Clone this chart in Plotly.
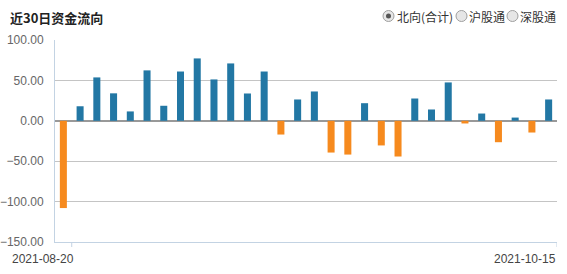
import plotly.graph_objects as go

dates = [
    "2021-08-20", "2021-08-23", "2021-08-24", "2021-08-25", "2021-08-26", "2021-08-27",
    "2021-08-30", "2021-08-31", "2021-09-01", "2021-09-02", "2021-09-03", "2021-09-06",
    "2021-09-07", "2021-09-08", "2021-09-09", "2021-09-10", "2021-09-13", "2021-09-14",
    "2021-09-15", "2021-09-16", "2021-09-17", "2021-09-23", "2021-09-24", "2021-09-27",
    "2021-09-28", "2021-09-29", "2021-10-08", "2021-10-11", "2021-10-12", "2021-10-15",
]
net_flow = [
    -108, 18, 53.7, 34, 11.6, 62.4, 18.6, 61, 77.2, 51.2,
    71, 33.8, 61, -17, 26.4, 36.3, -39.3, -41.8, 21.8, -30.5,
    -44.2, 27.6, 14, 47.5, -3.3, 9, -26.5, 4, -14.5, 26.4,
]
y_ticks = [-150, -100, -50, 0, 50, 100]
title_text = "近30日资金流向"
legend_items = ["北向(合计)", "沪股通", "深股通"]

BLUE = "#2277a4"
ORANGE = "#f68a1e"
AXIS = "#c3d3e3"

colors = [BLUE if v >= 0 else ORANGE for v in net_flow]

fig = go.Figure(go.Bar(x=dates, y=net_flow, marker=dict(color=colors, line=dict(width=0)),
                       hoverinfo="x+y"))

L, R, T, B = 55, 10, 40, 32
W, H = 567, 274
PW, PH = W - L - R, H - T - B


def px_x(p):
    return (p - L) / PW


def px_y(p):
    return (H - B - p) / PH


shapes = []
annotations = []

# x-axis tick marks at category boundaries
for xv in [0.5, len(dates) - 0.5]:
    shapes.append(dict(type="line", xref="x", yref="paper", x0=xv, x1=xv,
                       y0=0, y1=-5 / PH, line=dict(color=AXIS, width=1)))

# date labels
annotations.append(dict(text=dates[0], xref="x", yref="paper", x=dates[0], y=px_y(259),
                        xanchor="center", yanchor="middle", xshift=-20, showarrow=False,
                        font=dict(family="Liberation Sans", size=12, color="#444")))
annotations.append(dict(text=dates[-1], xref="x", yref="paper", x=dates[-1], y=px_y(259),
                        xanchor="center", yanchor="middle", xshift=-24, showarrow=False,
                        font=dict(family="Liberation Sans", size=12, color="#444")))

# title
annotations.append(dict(text="<b>" + title_text + "</b>", xref="paper", yref="paper",
                        x=px_x(8), y=px_y(18), xanchor="left", yanchor="middle",
                        showarrow=False,
                        font=dict(family="Noto Sans CJK SC", size=13, color="#222")))

# radio-style legend
radio_cx = [388.5, 461.5, 512.5]
text_x = [395, 467, 518]
for i, (label, cx, tx) in enumerate(zip(legend_items, radio_cx, text_x)):
    r = 5.5
    shapes.append(dict(type="circle", xref="paper", yref="paper",
                       x0=px_x(cx - r), x1=px_x(cx + r), y0=px_y(16 + r), y1=px_y(16 - r),
                       fillcolor="#e6e6e6", line=dict(color="#a0a0a0", width=1)))
    if i == 0:
        r2 = 2.5
        shapes.append(dict(type="circle", xref="paper", yref="paper",
                           x0=px_x(cx - r2), x1=px_x(cx + r2), y0=px_y(16 + r2), y1=px_y(16 - r2),
                           fillcolor="#555", line=dict(width=0)))
    annotations.append(dict(text=label, xref="paper", yref="paper", x=px_x(tx), y=px_y(17),
                            xanchor="left", yanchor="middle", showarrow=False,
                            font=dict(family="Noto Sans CJK SC", size=12, color="#333")))

fig.update_layout(
    width=W, height=H,
    margin=dict(l=L, r=R, t=T, b=B, pad=0, autoexpand=False),
    paper_bgcolor="white", plot_bgcolor="white",
    bargap=0.58,
    showlegend=False,
    shapes=shapes,
    annotations=annotations,
    xaxis=dict(type="category", range=[-0.5, len(dates) - 0.5], showgrid=False,
               showticklabels=False, ticks="", showline=True, linecolor=AXIS, linewidth=1,
               zeroline=False, fixedrange=True, automargin=False),
    yaxis=dict(range=[-150, 100], tickvals=y_ticks, tickformat=".2f",
               showgrid=True, gridcolor="#c4c4c4", gridwidth=1,
               zeroline=True, zerolinecolor="#999", zerolinewidth=1.5,
               showline=True, linecolor=AXIS, linewidth=1, ticks="",
               ticklabelstandoff=8, automargin=False,
               tickfont=dict(family="Liberation Sans", size=12, color="#666"),
               fixedrange=True),
)

fig.write_html("out.html")
